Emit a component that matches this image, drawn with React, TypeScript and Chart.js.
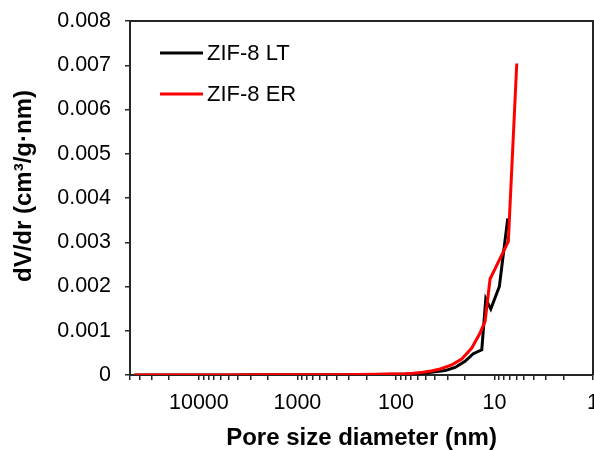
import React, { useEffect, useRef } from "react";
import { Chart, registerables } from "chart.js";

Chart.register(...registerables);

// ZIF-8 LT (black)
const ltDiameter = [45000, 20000, 10000, 5000, 2500, 1200, 700, 400, 250, 160, 110, 80, 57, 44, 31.7, 25.1, 19.9, 16.4, 13.45, 12.25, 10.9, 8.92, 7.33];
const ltValues = [0, 0, 0.000001, 0.000002, 0.000003, 0.000004, 0.000005, 0.000006, 0.000008, 0.000012, 0.000018, 0.000025, 0.00004, 0.00006, 0.0001, 0.00017, 0.00031, 0.00048, 0.00057, 0.00172, 0.00149, 0.002, 0.00354];

// ZIF-8 ER (red)
const erDiameter = [45000, 20000, 10000, 5000, 2500, 1200, 700, 400, 250, 160, 110, 80, 67, 53, 44, 35.6, 27.1, 21.5, 17.0, 14.0, 12.45, 11.08, 7.23, 5.94];
const erValues = [0, 0, 0.000001, 0.000002, 0.000004, 0.000005, 0.000006, 0.000007, 0.00001, 0.000015, 0.00002, 0.00003, 0.00004, 0.00006, 0.00009, 0.000135, 0.00023, 0.00036, 0.00061, 0.00095, 0.00121, 0.00217, 0.00302, 0.00704];

const seriesLabels = ["ZIF-8 LT", "ZIF-8 ER"];
const seriesColors = ["#000000", "#ff0000"];

const xMin = 1;
const xMax = 50000;
const yMax = 0.008;
const yStep = 0.001;

const xTitle = "Pore size diameter (nm)";
const yTitle = "dV/dr (cm\u00b3/g\u00b7nm)";

const FONT = "'Liberation Sans', Arial, sans-serif";
const AXIS_COLOR = "#262626";

function buildLogTicks(min: number, max: number) {
  const ticks: { value: number; major: boolean }[] = [];
  for (let e = 0; e <= 5; e++) {
    const base = Math.pow(10, e);
    for (let m = 1; m <= 9; m++) {
      const v = m * base;
      if (v >= min && v <= max) ticks.push({ value: v, major: m === 1 });
    }
  }
  return ticks;
}

const overlayPlugin = {
  id: "overlay",
  afterDraw(chart: any) {
    const { ctx, chartArea } = chart;
    ctx.save();
    // frame top/right
    ctx.strokeStyle = AXIS_COLOR;
    ctx.lineWidth = 2;
    ctx.beginPath();
    ctx.moveTo(chartArea.left, chartArea.top);
    ctx.lineTo(chartArea.right, chartArea.top);
    ctx.lineTo(chartArea.right, chartArea.bottom);
    ctx.stroke();

    // legend
    ctx.font = `22px ${FONT}`;
    ctx.textBaseline = "middle";
    ctx.textAlign = "left";
    chart.data.datasets.forEach((ds: any, i: number) => {
      const y = 53 + i * 41;
      ctx.strokeStyle = ds.borderColor;
      ctx.lineWidth = 3;
      ctx.beginPath();
      ctx.moveTo(160, y);
      ctx.lineTo(203, y);
      ctx.stroke();
      ctx.fillStyle = "#000";
      ctx.fillText(ds.label, 207, y + 1);
    });

    // titles
    ctx.fillStyle = "#000";
    ctx.font = `bold 24px ${FONT}`;
    ctx.textAlign = "center";
    ctx.textBaseline = "alphabetic";
    ctx.fillText(xTitle, (chartArea.left + chartArea.right) / 2, 445);
    ctx.translate(31, 186);
    ctx.rotate(-Math.PI / 2);
    ctx.fillText(yTitle, 0, 0);
    ctx.restore();
  },
};

export default function App() {
  const ref = useRef<HTMLCanvasElement>(null);
  useEffect(() => {
    document.body.style.margin = "0";
    const chart = new Chart(ref.current as HTMLCanvasElement, {
      type: "scatter",
      data: {
        datasets: [
          {
            label: seriesLabels[0],
            data: ltDiameter.map((x, i) => ({ x, y: ltValues[i] })),
            borderColor: seriesColors[0],
            backgroundColor: seriesColors[0],
            borderWidth: 3,
            showLine: true,
            pointRadius: 0,
            tension: 0,
            order: 1,
          },
          {
            label: seriesLabels[1],
            data: erDiameter.map((x, i) => ({ x, y: erValues[i] })),
            borderColor: seriesColors[1],
            backgroundColor: seriesColors[1],
            borderWidth: 3,
            showLine: true,
            pointRadius: 0,
            tension: 0,
            order: 0,
          },
        ],
      },
      options: {
        animation: false,
        responsive: false,
        maintainAspectRatio: false,
        layout: { padding: { top: 21, right: 1, left: 0, bottom: 0 } },
        plugins: { legend: { display: false }, tooltip: { enabled: false } },
        scales: {
          x: {
            type: "logarithmic",
            reverse: true,
            min: xMin,
            max: xMax,
            afterBuildTicks: (scale: any) => {
              scale.ticks = buildLogTicks(xMin, xMax);
            },
            afterFit: (scale: any) => {
              scale.height = 75;
              scale.paddingLeft = 0;
              scale.paddingRight = 0;
            },
            border: { display: true, color: AXIS_COLOR, width: 2 },
            grid: {
              drawOnChartArea: false,
              drawTicks: true,
              tickLength: 5,
              color: AXIS_COLOR,
              tickColor: AXIS_COLOR,
              lineWidth: 1.5,
            },
            ticks: {
              autoSkip: false,
              maxRotation: 0,
              minRotation: 0,
              padding: 10,
              color: "#000",
              font: { family: FONT, size: 21.5 },
              callback: (value: any) => {
                const v = Number(value);
                const l = Math.log10(v);
                return Math.abs(l - Math.round(l)) < 1e-9 ? String(v) : "";
              },
            },
          },
          y: {
            type: "linear",
            min: 0,
            max: yMax,
            afterFit: (scale: any) => {
              scale.width = 130;
              scale.paddingTop = 0;
              scale.paddingBottom = 0;
            },
            border: { display: true, color: AXIS_COLOR, width: 2 },
            grid: {
              drawOnChartArea: false,
              drawTicks: true,
              tickLength: 5,
              color: AXIS_COLOR,
              tickColor: AXIS_COLOR,
              lineWidth: 1.5,
            },
            ticks: {
              stepSize: yStep,
              padding: 14,
              color: "#000",
              font: { family: FONT, size: 21.5 },
              callback: (value: any) => {
                const v = Number(value);
                return v === 0 ? "0" : v.toFixed(3);
              },
            },
          },
        },
      },
      plugins: [overlayPlugin],
    } as any);
    return () => chart.destroy();
  }, []);
  return (
    <div style={{ position: "absolute", left: 0, top: 0, width: 594, height: 450, background: "#fff" }}>
      <canvas ref={ref} width={594} height={450} style={{ width: 594, height: 450, display: "block" }} />
    </div>
  );
}
